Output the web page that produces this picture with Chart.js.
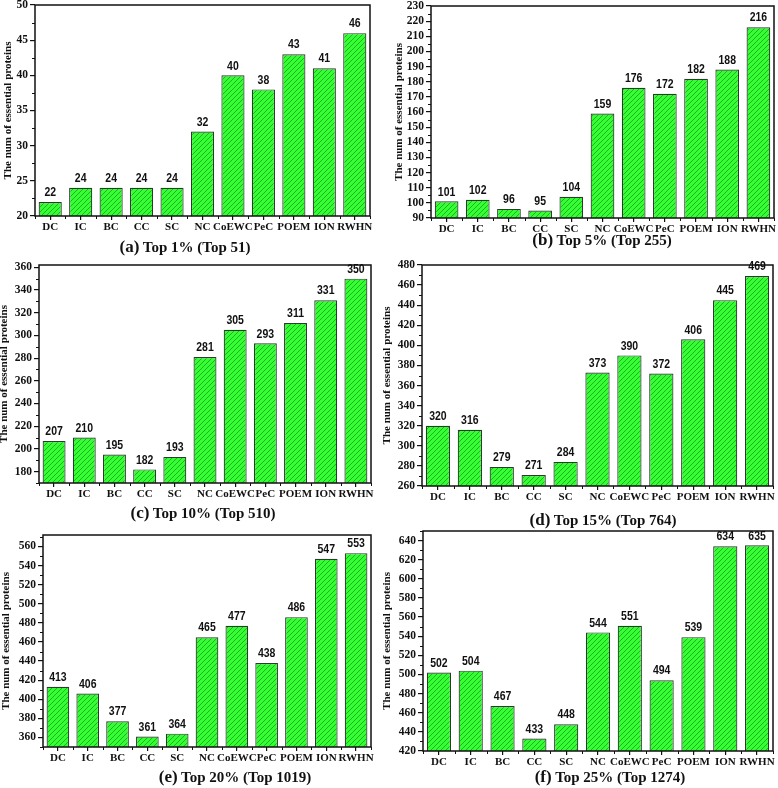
<!DOCTYPE html>
<html>
<head>
<meta charset="utf-8">
<script src="https://cdn.jsdelivr.net/npm/chart.js@4.4.1/dist/chart.umd.min.js"></script>
<style>
  body { margin: 0; background: #fff; width: 778px; height: 788px; overflow: hidden; position: relative; }
  canvas { position: absolute; z-index: 1; }
  .cap { position: absolute; z-index: 2; transform: translate(-50%, -50%); white-space: nowrap;
         font-family: "Liberation Serif", serif; font-weight: bold; font-size: 15px; color: #111; }
  .cap span { font-size: 17px; }
</style>
</head>
<body>
<script>
const categories = ['DC', 'IC', 'BC', 'CC', 'SC', 'NC', 'CoEWC', 'PeC', 'POEM', 'ION', 'RWHN'];

const top1 = [22, 24, 24, 24, 24, 32, 40, 38, 43, 41, 46];
const top5 = [101, 102, 96, 95, 104, 159, 176, 172, 182, 188, 216];
const top10 = [207, 210, 195, 182, 193, 281, 305, 293, 311, 331, 350];
const top15 = [320, 316, 279, 271, 284, 373, 390, 372, 406, 445, 469];
const top20 = [413, 406, 377, 361, 364, 465, 477, 438, 486, 547, 553];
const top25 = [502, 504, 467, 433, 448, 544, 551, 494, 539, 634, 635];

const letters = ['(a)', '(b)', '(c)', '(d)', '(e)', '(f)'];
const captions = ['Top 1% (Top 51)', 'Top 5% (Top 255)', 'Top 10% (Top 510)',
                  'Top 15% (Top 764)', 'Top 20% (Top 1019)', 'Top 25% (Top 1274)'];
const yMin = [20, 90, 170, 260, 350, 420];
const yMax = [50, 230, 362, 480, 572, 650];
const yStep = [5, 10, 20, 20, 20, 20];

// where each panel sits on the page (plot box, room above it, y title centre, caption centre)
const layout = [
  { left: 35, top: 5, right: 370, bottom: 216, pad: 5, titleX: 9, capX: 185, capY: 247 },
  { left: 431, top: 6, right: 774, bottom: 218, pad: 6, titleX: 400, capX: 602, capY: 240 },
  { left: 39, top: 265, right: 371, bottom: 483, pad: 8, titleX: 5, capX: 203, capY: 513 },
  { left: 422, top: 265, right: 773, bottom: 486, pad: 10, titleX: 388, capX: 603, capY: 520 },
  { left: 43, top: 535, right: 371, bottom: 747, pad: 10, titleX: 7, capX: 235, capY: 777 },
  { left: 423, top: 531, right: 773, bottom: 751, pad: 1, titleX: 388, capX: 610, capY: 777 }
];
const series = [top1, top5, top10, top15, top20, top25];

// green hatched fill
const hatch = (() => {
  const c = document.createElement('canvas');
  c.width = c.height = 5;
  const g = c.getContext('2d');
  g.fillStyle = '#33ff33';
  g.fillRect(0, 0, 5, 5);
  g.strokeStyle = '#24b024';
  g.lineWidth = 1;
  g.beginPath();
  g.moveTo(0, 5); g.lineTo(5, 0);
  g.moveTo(-1, 1); g.lineTo(1, -1);
  g.moveTo(4, 6); g.lineTo(6, 4);
  g.stroke();
  return g.createPattern(c, 'repeat');
})();

const framePlugin = {
  id: 'frame',
  afterDraw(chart, args, opts) {
    const { ctx, chartArea: a, scales: { x, y } } = chart;
    ctx.save();
    ctx.strokeStyle = '#111';
    ctx.lineWidth = 1.5;
    ctx.strokeRect(a.left, a.top, a.right - a.left, a.bottom - a.top);
    // minor ticks
    ctx.lineWidth = 1;
    ctx.beginPath();
    const half = opts.step / 2;
    for (let v = Math.ceil(y.min / half) * half; v <= y.max + 1e-6; v += half) {
      if (Math.abs(v / opts.step - Math.round(v / opts.step)) < 1e-6) continue;
      const py = Math.round(y.getPixelForValue(v)) + 0.5;
      ctx.moveTo(a.left - 3, py);
      ctx.lineTo(a.left, py);
    }
    const sp = x.getPixelForValue(1) - x.getPixelForValue(0);
    for (let i = 0; i <= categories.length; i++) {
      const px = Math.round(x.getPixelForValue(i) - sp / 2) + 0.5;
      ctx.moveTo(px, a.bottom);
      ctx.lineTo(px, a.bottom + 3);
    }
    ctx.stroke();
    ctx.restore();
  }
};

// numbers over the bars, a bit taller than wide like the original
const labelPlugin = {
  id: 'valueLabels',
  afterDatasetsDraw(chart) {
    const ctx = chart.ctx;
    const vals = chart.data.datasets[0].data;
    ctx.save();
    ctx.font = 'bold 10.5px "Liberation Sans"';
    ctx.fillStyle = '#111';
    ctx.textAlign = 'center';
    ctx.textBaseline = 'bottom';
    chart.getDatasetMeta(0).data.forEach((bar, i) => {
      ctx.save();
      ctx.translate(bar.x, bar.y - 3);
      ctx.scale(1, 1.2);
      ctx.fillText(vals[i], 0, 0);
      ctx.restore();
    });
    ctx.restore();
  }
};

const makeChart = (k) => {
  const p = layout[k];
  const x0 = p.titleX - 7;
  const y0 = p.top - p.pad;
  const cv = document.createElement('canvas');
  cv.width = p.right - x0 + 6;
  cv.height = p.bottom - y0 + 22;
  cv.style.left = x0 + 'px';
  cv.style.top = y0 + 'px';
  document.body.appendChild(cv);

  const majors = [];
  for (let v = Math.ceil(yMin[k] / yStep[k]) * yStep[k]; v <= yMax[k]; v += yStep[k]) majors.push(v);

  const serif = (size) => ({ family: 'Liberation Serif', weight: 'bold', size: size });

  new Chart(cv, {
    type: 'bar',
    data: {
      labels: categories,
      datasets: [{
        data: series[k],
        backgroundColor: hatch,
        borderColor: '#2b3b2b',
        borderWidth: 1.2,
        barPercentage: 0.76,
        categoryPercentage: 1
      }]
    },
    options: {
      responsive: false,
      animation: false,
      layout: { padding: { top: p.pad, right: 6, left: 0, bottom: 0 } },
      plugins: {
        legend: { display: false },
        tooltip: { enabled: false },
        frame: { step: yStep[k] }
      },
      scales: {
        x: {
          grid: { offset: false, drawOnChartArea: false, tickLength: 4, color: '#111', lineWidth: 1.2 },
          border: { display: false },
          ticks: { autoSkip: false, maxRotation: 0, minRotation: 0, padding: 1, color: '#111', font: serif(11) },
          afterFit: (s) => { s.height = 22; }
        },
        y: {
          min: yMin[k],
          max: yMax[k],
          grid: { drawOnChartArea: false, tickLength: 5, color: '#111', lineWidth: 1.2 },
          border: { display: false },
          ticks: { autoSkip: false, padding: 2, color: '#111', font: serif(11.5) },
          afterBuildTicks: (s) => { s.ticks = majors.map(v => ({ value: v })); },
          afterFit: (s) => {
            s.width = p.left - x0;
            s.paddingTop = 0;
            s.paddingBottom = 0;
          },
          title: {
            display: true,
            text: 'The num of essential proteins',
            padding: { top: 0, bottom: 0 },
            color: '#111',
            font: serif(11)
          }
        }
      }
    },
    plugins: [framePlugin, labelPlugin]
  });

  const cap = document.createElement('div');
  cap.className = 'cap';
  cap.style.left = p.capX + 'px';
  cap.style.top = p.capY + 'px';
  cap.innerHTML = '<span>' + letters[k] + '</span> ' + captions[k];
  document.body.appendChild(cap);
};

for (let k = 0; k < 6; k++) makeChart(k);
</script>
</body>
</html>
